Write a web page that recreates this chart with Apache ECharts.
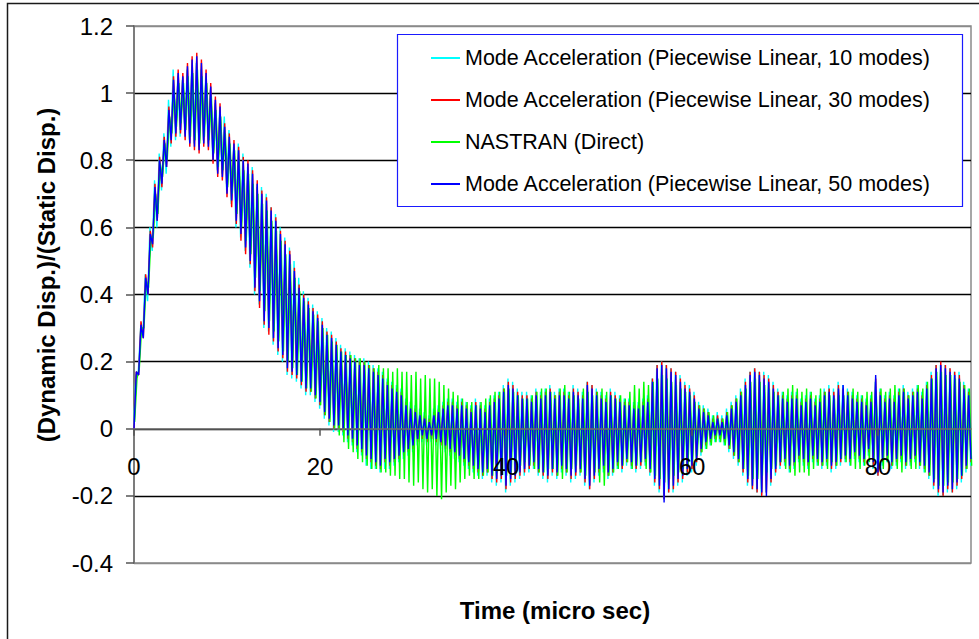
<!DOCTYPE html>
<html>
<head>
<meta charset="utf-8">
<title>Dynamic / Static Displacement</title>
<script src="https://cdn.jsdelivr.net/npm/echarts@6/dist/echarts.min.js"></script>
<style>
  html, body { margin: 0; padding: 0; background: #fff; }
  #chart { width: 979px; height: 639px; }
</style>
</head>
<body>
<div id="chart"></div>
<script>
// Sample spacing of the response histories (micro sec) and start time of each record
const STEP = 0.25;
const T0_MA10 = -0.04;
const T0_MA30 = 0;
const T0_NASTRAN = 0.07;
const T0_MA50 = 0;

// Axis ticks
const X_TICKS = [0, 20, 40, 60, 80];
const Y_MIN = -0.4, Y_MAX = 1.2, Y_STEP = 0.2;
const X_MIN = 0, X_MAX = 90, X_STEP = 20;

// Series names
const NAMES = [
  'Mode Acceleration (Piecewise Linear, 10 modes)',
  'Mode Acceleration (Piecewise Linear, 30 modes)',
  'NASTRAN (Direct)',
  'Mode Acceleration (Piecewise Linear, 50 modes)'
];

// (Dynamic Disp.)/(Static Disp.) - mode acceleration, 10 modes
const ma10 = [
  0,.16,.17,.30, .28,.46,.38,.60,
  .53,.74,.60,.82, .71,.88,.76,.98,
  .84,1.07,.86,1.05, .87,1.04,.88,1.07,
  .86,1.08,.85,1.09, .84,1.07,.86,1.05,
  .85,1.01,.81,.97, .77,.95,.76,.93,
  .71,.89,.67,.84, .60,.85,.57,.82,
  .53,.78,.48,.78, .40,.72,.37,.72,
  .30,.70,.29,.66, .25,.64,.22,.60,
  .20,.57,.16,.54, .15,.50,.14,.45,
  .12,.41,.10,.39, .10,.37,.08,.35,
  .06,.33,.03,.30, .01,.29,-.01,.27,
  -.01,.25,-.02,.24, -.04,.23,-.05,.22,
  -.07,.21,-.08,.21, -.11,.20,-.12,.19,
  -.12,.18,-.13,.17, -.12,.15,-.12,.14,
  -.11,.13,-.10,.12, -.09,.09,-.08,.08,
  -.07,.07,-.05,.06, -.04,.05,-.05,.04,
  -.04,.06,-.05,.07, -.06,.08,-.07,.09,
  -.08,.09,-.09,.08, -.10,.09,-.11,.08,
  -.12,.07,-.13,.09, -.14,.08,-.15,.07,
  -.14,.09,-.16,.10, -.17,.11,-.16,.13,
  -.19,.15,-.17,.14, -.16,.12,-.15,.11,
  -.14,.11,-.13,.10, -.12,.12,-.14,.11,
  -.15,.12,-.16,.13, -.14,.11,-.15,.12,
  -.13,.12,-.14,.11, -.16,.13,-.15,.12,
  -.14,.11,-.17,.14, -.18,.13,-.16,.12,
  -.14,.11,-.13,.10, -.15,.12,-.14,.11,
  -.12,.10,-.13,.09, -.11,.09,-.12,.08,
  -.13,.08,-.12,.09, -.11,.10,-.14,.15,
  -.17,.19,-.19,.20, -.21,.19,-.19,.18,
  -.19,.17,-.17,.16, -.16,.14,-.14,.13,
  -.13,.11,-.11,.08, -.08,.07,-.06,.06,
  -.05,.04,-.04,.05, -.04,.04,-.05,.06,
  -.07,.08,-.09,.10, -.11,.12,-.14,.15,
  -.17,.17,-.18,.18, -.19,.17,-.20,.17,
  -.19,.16,-.17,.14, -.14,.12,-.12,.11,
  -.11,.10,-.13,.11, -.12,.11,-.10,.09,
  -.11,.10,-.12,.11, -.10,.09,-.11,.10,
  -.12,.12,-.11,.13, -.13,.12,-.12,.14,
  -.11,.13,-.10,.12, -.11,.11,-.09,.10,
  -.10,.10,-.11,.09, -.08,.10,-.12,.14,
  -.14,.12,-.11,.10, -.10,.11,-.12,.10,
  -.11,.12,-.10,.13, -.12,.11,-.11,.12,
  -.10,.13,-.12,.11, -.13,.14,-.15,.17,
  -.18,.19,-.20,.19, -.20,.19,-.19,.18,
  -.19,.17,-.18,.17, -.16,.14,-.13,.12,
  -.11
];

// mode acceleration, 30 modes
const ma30 = [
  0,.17,.16,.32, .27,.46,.40,.59,
  .54,.73,.62,.81, .72,.87,.78,.96,
  .85,1.05,.87,1.07, .88,1.06,.86,1.09,
  .84,1.11,.83,1.12, .82,1.10,.84,1.07,
  .83,1.03,.79,.99, .75,.97,.74,.91,
  .69,.88,.66,.86, .61,.84,.56,.81,
  .52,.80,.49,.77, .41,.74,.36,.71,
  .31,.69,.28,.66, .26,.63,.23,.59,
  .21,.56,.17,.53, .16,.48,.15,.43,
  .13,.40,.11,.38, .11,.36,.09,.34,
  .07,.32,.04,.29, .02,.28,.00,.26,
  .00,.24,-.01,.23, -.03,.22,-.04,.21,
  -.06,.20,-.07,.20, -.09,.19,-.10,.18,
  -.11,.17,-.12,.16, -.10,.14,-.11,.13,
  -.10,.12,-.09,.11, -.08,.08,-.07,.07,
  -.06,.06,-.04,.05, -.03,.04,-.04,.03,
  -.03,.05,-.04,.06, -.05,.07,-.06,.08,
  -.07,.08,-.08,.07, -.09,.08,-.10,.07,
  -.11,.06,-.12,.08, -.13,.07,-.14,.06,
  -.13,.08,-.15,.09, -.16,.10,-.15,.12,
  -.18,.14,-.16,.13, -.15,.11,-.14,.10,
  -.13,.10,-.12,.09, -.11,.11,-.13,.10,
  -.14,.11,-.15,.12, -.13,.10,-.14,.11,
  -.12,.11,-.13,.10, -.15,.12,-.14,.11,
  -.13,.10,-.16,.14, -.18,.13,-.15,.11,
  -.13,.10,-.12,.09, -.14,.11,-.13,.10,
  -.11,.09,-.12,.08, -.10,.08,-.11,.07,
  -.12,.07,-.11,.08, -.10,.09,-.13,.15,
  -.16,.19,-.18,.20, -.21,.19,-.19,.18,
  -.18,.17,-.16,.15, -.15,.13,-.13,.12,
  -.12,.10,-.10,.07, -.07,.06,-.05,.05,
  -.04,.03,-.03,.04, -.03,.03,-.04,.05,
  -.06,.07,-.08,.09, -.10,.11,-.13,.14,
  -.16,.17,-.18,.18, -.19,.17,-.20,.16,
  -.19,.15,-.16,.13, -.13,.11,-.11,.10,
  -.10,.09,-.12,.10, -.11,.10,-.09,.08,
  -.10,.09,-.11,.10, -.09,.08,-.10,.09,
  -.11,.11,-.10,.12, -.12,.11,-.11,.13,
  -.10,.12,-.09,.11, -.10,.10,-.08,.09,
  -.09,.09,-.10,.08, -.07,.09,-.11,.15,
  -.14,.11,-.10,.09, -.09,.10,-.11,.09,
  -.10,.11,-.09,.12, -.11,.10,-.10,.11,
  -.09,.12,-.11,.10, -.12,.13,-.14,.16,
  -.17,.19,-.19,.20, -.20,.19,-.18,.18,
  -.19,.17,-.17,.16, -.15,.13,-.12,.11,
  -.10
];

// NASTRAN direct transient solution
const nastran = [
  .02,.15,.18,.30, .30,.44,.42,.57,
  .57,.70,.64,.79, .75,.85,.80,.93,
  .88,1.01,.90,1.03, .91,1.03,.89,1.05,
  .87,1.06,.86,1.07, .85,1.05,.87,1.03,
  .86,.99,.82,.95, .78,.93,.77,.88,
  .72,.85,.70,.83, .64,.80,.60,.77,
  .56,.76,.52,.73, .45,.70,.41,.67,
  .35,.65,.32,.62, .29,.59,.26,.56,
  .23,.52,.20,.49, .18,.45,.16,.41,
  .14,.38,.12,.36, .11,.34,.09,.32,
  .07,.30,.04,.28, .02,.26,.00,.25,
  -.02,.23,-.04,.22, -.06,.22,-.07,.21,
  -.09,.21,-.10,.20, -.11,.19,-.12,.18,
  -.12,.19,-.13,.18, -.13,.18,-.14,.17,
  -.14,.18,-.15,.17, -.15,.17,-.16,.16,
  -.17,.17,-.16,.15, -.18,.16,-.19,.15,
  -.18,.15,-.20,.14, -.21,.13,-.19,.12,
  -.17,.11,-.18,.10, -.16,.09,-.15,.08,
  -.14,.08,-.15,.07, -.15,.08,-.14,.09,
  -.13,.10,-.14,.11, -.13,.11,-.12,.12,
  -.14,.12,-.13,.11, -.12,.10,-.11,.09,
  -.10,.09,-.11,.10, -.12,.11,-.13,.12,
  -.13,.12,-.12,.11, -.12,.10,-.14,.12,
  -.15,.13,-.13,.11, -.12,.10,-.11,.09,
  -.13,.12,-.14,.11, -.12,.10,-.13,.11,
  -.16,.12,-.17,.11, -.14,.10,-.13,.09,
  -.12,.10,-.11,.09, -.10,.11,-.12,.13,
  -.11,.12,-.10,.14, -.12,.13,-.13,.14,
  -.14,.15,-.15,.16, -.16,.15,-.15,.14,
  -.14,.13,-.13,.12, -.12,.11,-.11,.10,
  -.10,.08,-.08,.07, -.07,.06,-.06,.05,
  -.05,.04,-.04,.03, -.04,.03,-.05,.05,
  -.06,.07,-.08,.09, -.10,.11,-.12,.12,
  -.14,.14,-.15,.15, -.15,.14,-.14,.13,
  -.13,.12,-.12,.11, -.11,.10,-.10,.11,
  -.12,.12,-.13,.13, -.14,.12,-.13,.11,
  -.13,.12,-.14,.11, -.12,.10,-.11,.12,
  -.11,.11,-.12,.10, -.10,.09,-.11,.10,
  -.09,.10,-.10,.11, -.11,.12,-.12,.11,
  -.12,.10,-.11,.11, -.10,.11,-.09,.10,
  -.11,.12,-.12,.11, -.10,.12,-.11,.13,
  -.12,.12,-.13,.12, -.11,.10,-.12,.11,
  -.12,.13,-.11,.12, -.13,.14,-.14,.15,
  -.15,.17,-.17,.17, -.17,.16,-.16,.16,
  -.16,.15,-.15,.14, -.14,.13,-.12,.12,
  -.11
];

// mode acceleration, 50 modes
const ma50 = [
  0,.17,.16,.31, .27,.45,.40,.58,
  .55,.72,.62,.80, .73,.86,.78,.95,
  .86,1.04,.88,1.06, .89,1.05,.87,1.08,
  .85,1.10,.84,1.11, .83,1.09,.85,1.06,
  .84,1.02,.80,.98, .76,.96,.75,.90,
  .70,.87,.68,.85, .62,.83,.58,.80,
  .54,.79,.50,.76, .42,.73,.38,.70,
  .32,.68,.30,.65, .27,.62,.24,.58,
  .22,.55,.18,.52, .17,.47,.16,.42,
  .14,.39,.12,.37, .12,.35,.10,.33,
  .08,.31,.05,.28, .03,.27,.01,.25,
  .01,.23,.00,.22, -.02,.21,-.03,.20,
  -.05,.19,-.06,.19, -.08,.18,-.09,.17,
  -.10,.16,-.11,.15, -.09,.13,-.10,.12,
  -.09,.11,-.08,.10, -.07,.07,-.06,.06,
  -.05,.05,-.03,.04, -.02,.03,-.03,.02,
  -.02,.04,-.03,.05, -.04,.06,-.05,.07,
  -.06,.07,-.07,.06, -.08,.07,-.09,.06,
  -.10,.05,-.11,.07, -.12,.06,-.13,.05,
  -.12,.07,-.14,.08, -.15,.09,-.14,.11,
  -.17,.13,-.15,.12, -.14,.10,-.13,.09,
  -.12,.09,-.11,.08, -.10,.10,-.12,.09,
  -.13,.10,-.14,.11, -.12,.09,-.13,.10,
  -.11,.10,-.12,.09, -.14,.11,-.13,.10,
  -.12,.09,-.15,.13, -.17,.12,-.14,.10,
  -.12,.09,-.11,.08, -.13,.10,-.12,.09,
  -.10,.08,-.11,.07, -.09,.07,-.10,.06,
  -.11,.06,-.10,.07, -.09,.08,-.12,.14,
  -.15,.18,-.17,.19, -.22,.18,-.18,.17,
  -.17,.16,-.15,.14, -.14,.12,-.12,.11,
  -.11,.09,-.09,.06, -.06,.05,-.04,.04,
  -.03,.02,-.02,.03, -.02,.02,-.03,.04,
  -.05,.06,-.07,.08, -.09,.10,-.12,.13,
  -.15,.16,-.17,.17, -.18,.16,-.19,.15,
  -.20,.14,-.15,.12, -.12,.10,-.10,.09,
  -.09,.08,-.11,.09, -.10,.09,-.08,.07,
  -.09,.08,-.10,.09, -.08,.07,-.09,.08,
  -.10,.10,-.09,.11, -.11,.10,-.10,.12,
  -.09,.13,-.08,.10, -.09,.09,-.07,.08,
  -.08,.08,-.09,.07, -.06,.08,-.10,.16,
  -.13,.10,-.09,.08, -.08,.09,-.10,.08,
  -.09,.10,-.08,.11, -.10,.09,-.09,.10,
  -.08,.11,-.10,.09, -.11,.12,-.13,.15,
  -.16,.18,-.18,.19, -.19,.18,-.17,.17,
  -.18,.16,-.16,.15, -.14,.12,-.11,.10,
  -.09
];

// Pair each record with its sample times
function timeSeries(values, t0) {
  return values.map(function (v, i) { return [t0 + i * STEP, v]; });
}

const FONT = '"Liberation Sans", Arial, sans-serif';

// Plot box
const GRID = { left: 134, top: 26, width: 837, height: 537 };
// The time axis sits on the zero line: shift it up from the bottom edge
const ZERO_OFFSET = -GRID.height * (0 - Y_MIN) / (Y_MAX - Y_MIN);

function lineSeries(name, values, t0, color, z) {
  return {
    name: name,
    type: 'line',
    data: timeSeries(values, t0),
    showSymbol: false,
    symbol: 'none',
    clip: true,
    z: z,
    lineStyle: { color: color, width: 1.4 },
    itemStyle: { color: color },
    emphasis: { disabled: true }
  };
}

const chart = echarts.init(document.getElementById('chart'), null, { renderer: 'svg' });

chart.setOption({
  animation: false,
  backgroundColor: '#ffffff',
  textStyle: { fontFamily: FONT },
  grid: {
    left: GRID.left, top: GRID.top, width: GRID.width, height: GRID.height,
    show: true, borderColor: '#8a8a8a', borderWidth: 1.5, backgroundColor: 'transparent'
  },
  xAxis: {
    type: 'value',
    min: X_MIN, max: X_MAX, interval: X_STEP,
    position: 'bottom',
    offset: ZERO_OFFSET,
    z: 10,
    axisLine: { show: true, onZero: false, lineStyle: { color: '#6e6e6e', width: 1.5 } },
    axisTick: { show: true, length: 7, customValues: X_TICKS, lineStyle: { color: '#555', width: 1.5 } },
    axisLabel: {
      customValues: X_TICKS, margin: 26, fontSize: 24, color: '#000', fontFamily: FONT
    },
    splitLine: { show: false }
  },
  yAxis: {
    type: 'value',
    min: Y_MIN, max: Y_MAX, interval: Y_STEP,
    axisLine: { show: true, lineStyle: { color: '#6e6e6e', width: 1.5 } },
    axisTick: { show: true, length: 8, lineStyle: { color: '#555', width: 1.5 } },
    axisLabel: { margin: 21, fontSize: 24, color: '#000', fontFamily: FONT },
    splitLine: {
      show: true,
      lineStyle: {
        color: ['#8a8a8a', '#000', '#000', '#000', '#000', '#000', '#000', '#000', '#8a8a8a'],
        width: 1.3
      }
    }
  },
  legend: {
    show: true,
    orient: 'vertical',
    left: 431, top: 46,
    padding: 0,
    itemGap: 18,
    itemWidth: 29, itemHeight: 2,
    icon: 'rect',
    selectedMode: false,
    z: 6,
    data: NAMES,
    textStyle: { fontSize: 21.5, color: '#000', fontFamily: FONT, lineHeight: 24 }
  },
  graphic: [
    {
      type: 'rect', z: 5,
      shape: { x: 397.5, y: 34.5, width: 565, height: 172 },
      style: { fill: '#ffffff', stroke: '#1a1aff', lineWidth: 1.2 }
    },
    {
      type: 'rect', z: 20,
      shape: { x: 7.5, y: 3.5, width: 1000, height: 700 },
      style: { fill: 'none', stroke: '#1a1a1a', lineWidth: 1.5 }
    },
    {
      type: 'text', z: 20,
      x: 555, y: 610,
      style: {
        text: 'Time (micro sec)', fontSize: 24, fontWeight: 'bold', fontFamily: FONT,
        fill: '#000', align: 'center', verticalAlign: 'middle'
      }
    },
    {
      type: 'text', z: 20,
      x: 46, y: 275, rotation: Math.PI / 2,
      style: {
        text: '(Dynamic Disp.)/(Static Disp.)', fontSize: 24, fontWeight: 'bold', fontFamily: FONT,
        fill: '#000', align: 'center', verticalAlign: 'middle'
      }
    }
  ],
  series: [
    lineSeries(NAMES[0], ma10, T0_MA10, '#00ffff', 2),
    lineSeries(NAMES[1], ma30, T0_MA30, '#ff0000', 3),
    lineSeries(NAMES[2], nastran, T0_NASTRAN, '#00ff00', 4),
    lineSeries(NAMES[3], ma50, T0_MA50, '#0000ff', 5)
  ]
});
</script>
</body>
</html>
